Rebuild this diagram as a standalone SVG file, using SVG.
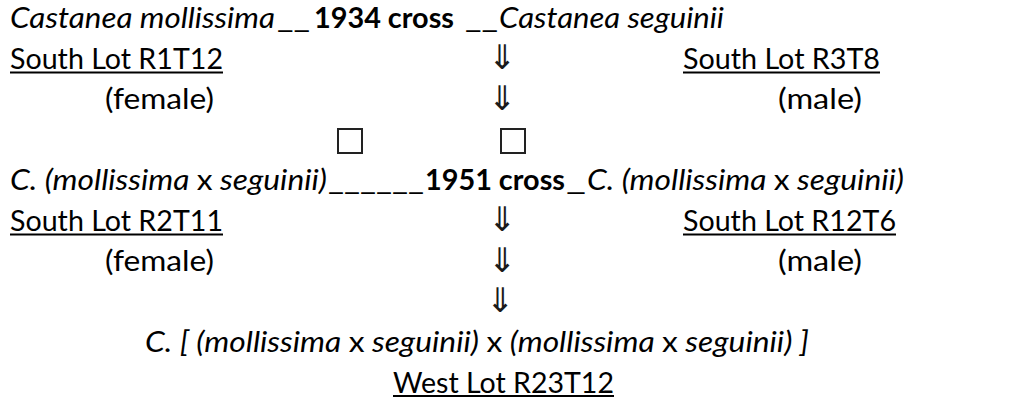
<svg xmlns="http://www.w3.org/2000/svg" width="1019" height="398" viewBox="0 0 1019 398">
  <style>
    .t { font-family: Lato, "Open Sans", "Liberation Sans", sans-serif; font-size: 29px; fill: #000; }
    .i { font-style: italic; }
    .b { font-weight: bold; }
    .ul { stroke: #000; stroke-width: 2.2; }
    .arr { font-family: "DejaVu Sans", sans-serif; font-size: 34px; fill: #1a1a1a; text-anchor: middle; }
    .box { fill: none; stroke: #222; stroke-width: 2; }
  </style>
  <rect width="1019" height="398" fill="#fff"/>

  <!-- 1934 cross: parents -->
  <g id="parent-mollissima-1934">
    <text class="t i" x="10" y="28" textLength="265" lengthAdjust="spacingAndGlyphs">Castanea mollissima</text>
    <text class="t" x="10" y="68.5" textLength="213" lengthAdjust="spacingAndGlyphs">South Lot R1T12</text>
    <line class="ul" x1="10" y1="72.5" x2="223" y2="72.5"/>
    <text class="t" x="105" y="109" textLength="109" lengthAdjust="spacingAndGlyphs">(female)</text>
  </g>
  <g id="cross-1934">
    <text class="t" x="277" y="28" textLength="33" lengthAdjust="spacingAndGlyphs">__</text>
    <text class="t b" x="314" y="28" textLength="140" lengthAdjust="spacingAndGlyphs">1934 cross</text>
    <text class="t" x="465" y="28" textLength="33" lengthAdjust="spacingAndGlyphs">__</text>
  </g>
  <g id="parent-seguinii-1934">
    <text class="t i" x="499" y="28" textLength="225" lengthAdjust="spacingAndGlyphs">Castanea seguinii</text>
    <text class="t" x="683" y="68.5" textLength="197" lengthAdjust="spacingAndGlyphs">South Lot R3T8</text>
    <line class="ul" x1="683" y1="72.5" x2="880" y2="72.5"/>
    <text class="t" x="778" y="109" textLength="84" lengthAdjust="spacingAndGlyphs">(male)</text>
  </g>

  <!-- placeholder squares -->
  <g id="squares">
    <rect class="box" x="338" y="129" width="24" height="24"/>
    <rect class="box" x="501" y="129" width="24" height="24"/>
  </g>

  <!-- 1951 cross: parents -->
  <g id="parent-hybrid-female">
    <text class="t i" x="10" y="190" textLength="317" lengthAdjust="spacingAndGlyphs">C. (mollissima <tspan font-style="normal">x</tspan> seguinii)</text>
    <text class="t" x="10" y="230.5" textLength="213" lengthAdjust="spacingAndGlyphs">South Lot R2T11</text>
    <line class="ul" x1="10" y1="234.5" x2="223" y2="234.5"/>
    <text class="t" x="105" y="271" textLength="109" lengthAdjust="spacingAndGlyphs">(female)</text>
  </g>
  <g id="cross-1951">
    <text class="t" x="328" y="190" textLength="96" lengthAdjust="spacingAndGlyphs">______</text>
    <text class="t b" x="425" y="190" textLength="140" lengthAdjust="spacingAndGlyphs">1951 cross</text>
    <text class="t" x="566" y="190" textLength="20" lengthAdjust="spacingAndGlyphs">_</text>
  </g>
  <g id="parent-hybrid-male">
    <text class="t i" x="587" y="190" textLength="317" lengthAdjust="spacingAndGlyphs">C. (mollissima <tspan font-style="normal">x</tspan> seguinii)</text>
    <text class="t" x="683" y="230.5" textLength="213" lengthAdjust="spacingAndGlyphs">South Lot R12T6</text>
    <line class="ul" x1="683" y1="234.5" x2="896" y2="234.5"/>
    <text class="t" x="778" y="271" textLength="84" lengthAdjust="spacingAndGlyphs">(male)</text>
  </g>

  <!-- offspring -->
  <g id="offspring">
    <text class="t i" x="145" y="352" textLength="664" lengthAdjust="spacingAndGlyphs">C. [ (mollissima <tspan font-style="normal">x</tspan> seguinii) <tspan font-style="normal">x</tspan> (mollissima <tspan font-style="normal">x</tspan> seguinii) ]</text>
    <text class="t" x="393" y="392.5" textLength="221" lengthAdjust="spacingAndGlyphs">West Lot R23T12</text>
    <line class="ul" x1="393" y1="396" x2="614" y2="396"/>
  </g>

  <!-- downward arrows -->
  <g id="connectors">
    <text class="arr" x="502" y="69">⇓</text>
    <text class="arr" x="502" y="110">⇓</text>
    <text class="arr" x="502" y="231">⇓</text>
    <text class="arr" x="502" y="272">⇓</text>
    <text class="arr" x="500" y="312">⇓</text>
  </g>
</svg>
